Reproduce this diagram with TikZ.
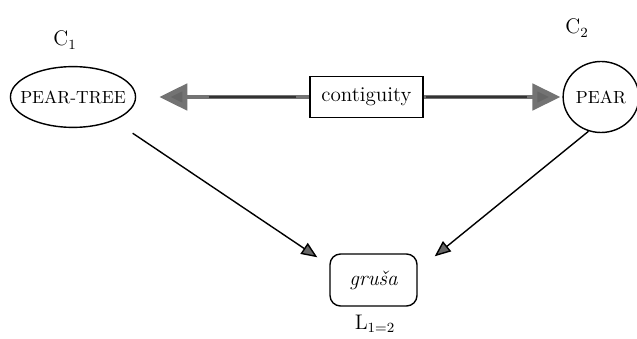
\documentclass[tikz,border=0pt]{standalone}
\usetikzlibrary{shapes.geometric,arrows.meta}

\begin{document}
\begin{tikzpicture}[
		every node/.style={font=\normalsize},
		concept/.style={
			draw, ellipse, line width=0.8pt, inner sep=1pt,
		},
		wordbox/.style={
			draw, line width=0.8pt, align=center,
		},
		relation/.style={
			line width=2.8pt, draw=black!55,
			-{Triangle[length=0.56cm, width=0.52cm, fill=black!60]},
		},
		relcore/.style={line width=1.6pt, draw=black!80},
		arrow/.style={line width=0.8pt,
			-{Triangle[length=0.32cm, width=0.26cm, fill=black!60]}},
		]
		
		\useasboundingbox (0,0) rectangle (12.74,-6.76);
		
		\node[font=\large] (cone) at (1.30,-0.80)  {C$_1$};
		\node[font=\large] (ctwo) at (11.54,-0.56) {C$_2$};
		
		\node[concept, inner xsep=-0.17cm, inner ysep=0.3cm] (peartree) at (1.46,-1.94) {PEAR-TREE};
		\node[concept, minimum width=1.44cm, minimum height=1.42cm] (pear) at (12.02,-1.94) {PEAR};
		\node[wordbox, font=\large, minimum width=2.26cm, minimum height=0.82cm] (contig) at (7.33,-1.94) {contiguity};
		\node[wordbox, rounded corners=6pt, font=\large\itshape, minimum width=1.74cm, minimum height=1.04cm] (grusa) at (7.47,-5.60) {gruša};
		\node[font=\large] (lexeme) at (7.50,-6.48) {L$_{1=2}$};
		
		\draw[relation, shorten >=0.46cm] (contig.west) -- (peartree);
		\draw[relation, shorten >=0.04cm] (contig.east) -- (pear);
		\draw[relcore, shorten <=0.26cm, shorten >=1.46cm] (contig.west) -- (peartree);
		\draw[relcore, shorten <=0.04cm, shorten >=0.70cm] (contig.east) -- (pear);
		
		\draw[arrow, shorten <=0.45cm] (peartree.-30) -- ([xshift=-0.24cm, yshift=-0.08cm]grusa.north west);
		\draw[arrow] (pear.-110) -- ([xshift=0.34cm, yshift=-0.06cm]grusa.north east);
		
	\end{tikzpicture}
\end{document}
